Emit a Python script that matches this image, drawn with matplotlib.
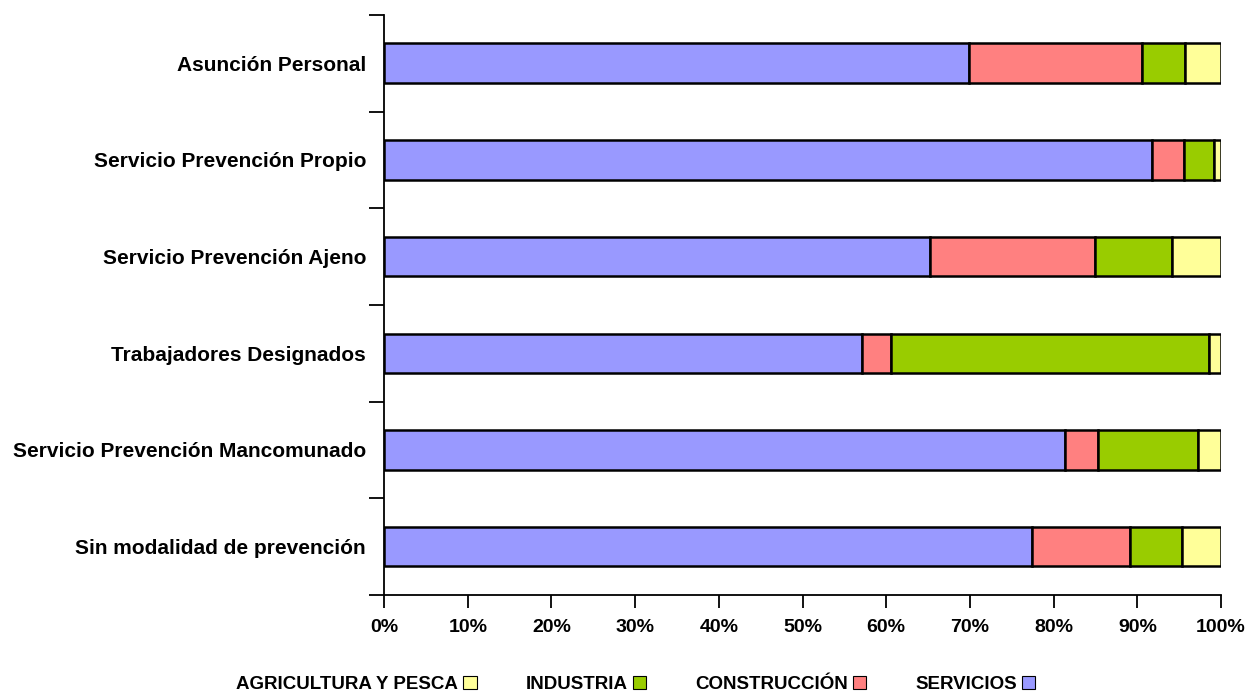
import matplotlib.pyplot as plt
from matplotlib.patches import Patch
import numpy as np

plt.rcParams['font.family'] = ['Liberation Sans', 'DejaVu Sans']
plt.rcParams['font.weight'] = 'bold'

categories = ["Asunción Personal", "Servicio Prevención Propio", "Servicio Prevención Ajeno",
              "Trabajadores Designados", "Servicio Prevención Mancomunado", "Sin modalidad de prevención"]
servicios = [69.9, 91.7, 65.2, 57.1, 81.4, 77.4]
construccion = [20.7, 3.9, 19.7, 3.5, 3.9, 11.7]
industria = [5.1, 3.6, 9.2, 38.0, 12.0, 6.2]
agricultura = [4.3, 0.8, 5.9, 1.4, 2.7, 4.7]

series = [("SERVICIOS", servicios, "#9999FF"),
          ("CONSTRUCCIÓN", construccion, "#FF8080"),
          ("INDUSTRIA", industria, "#99CC00"),
          ("AGRICULTURA Y PESCA", agricultura, "#FFFF99")]

fig = plt.figure(figsize=(12.49, 6.93), dpi=100)
ax = fig.add_axes([0.3075, 0.1414, 0.6701, 0.837])

# top category drawn first -> reverse positions
y = np.arange(len(categories))[::-1]
left = np.zeros(len(categories))
for name, vals, col in series:
    ax.barh(y, vals, left=left, height=0.41, color=col, edgecolor="black", linewidth=1.8)
    left += np.array(vals)

ax.set_xlim(0, 100)
ax.set_ylim(-0.5, len(categories) - 0.5)
ax.set_xticks(np.arange(0, 101, 10))
ax.set_xticklabels([f"{v}%" for v in range(0, 101, 10)], fontsize=14, fontweight="bold")
ax.set_yticks(np.arange(-0.5, len(categories), 1.0))
ax.set_yticklabels([])
ax.set_yticks(y, minor=True)
ax.set_yticklabels(categories, minor=True, fontsize=15, fontweight="bold")
ax.tick_params(axis="y", which="minor", length=0, pad=13)
ax.tick_params(axis="y", which="major", length=11, width=1.3)
ax.tick_params(axis="x", length=9, width=1.3, pad=8)
for s in ["top", "right"]:
    ax.spines[s].set_visible(False)
for s in ["left", "bottom"]:
    ax.spines[s].set_linewidth(1.3)

handles = [Patch(facecolor=c, edgecolor="black", linewidth=0.8) for _, _, c in series[::-1]]
labels = [n for n, _, _ in series[::-1]]
fig.legend(handles, labels, loc="lower center", bbox_to_anchor=(0.509, -0.025), ncol=4,
           frameon=False, markerfirst=False, prop={"size": 13.5, "weight": "bold"},
           handlelength=0.7, handleheight=0.7, handletextpad=0.3, columnspacing=2.6)

fig.savefig("out.png", dpi=100)
